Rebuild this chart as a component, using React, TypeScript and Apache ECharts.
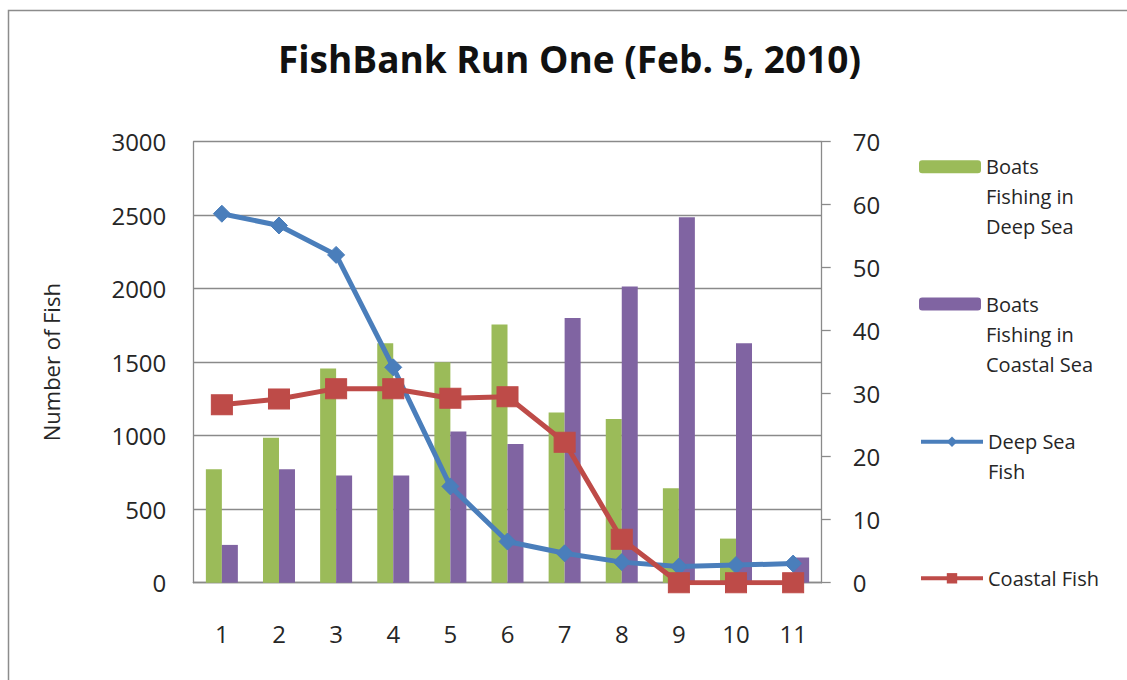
import React, { useEffect, useRef } from "react";
import * as echarts from "echarts";

// ---- data ----
const rounds = ["1", "2", "3", "4", "5", "6", "7", "8", "9", "10", "11"];
const boatsDeepSea = [18, 23, 34, 38, 35, 41, 27, 26, 15, 7, 0];
const boatsCoastalSea = [6, 18, 17, 17, 24, 22, 42, 47, 58, 38, 4];
const deepSeaFish = [2510, 2430, 2230, 1465, 655, 280, 200, 140, 110, 120, 130];
const coastalFish = [1210, 1250, 1320, 1320, 1255, 1265, 955, 295, 0, 0, 0];

const fishAxis = { min: 0, max: 3000, interval: 500 };
const boatAxis = { min: 0, max: 70, interval: 10 };

const seriesNames = [
  "Boats Fishing in Deep Sea",
  "Boats Fishing in Coastal Sea",
  "Deep Sea Fish",
  "Coastal Fish",
];
const legendLines = [
  ["Boats", "Fishing in", "Deep Sea"],
  ["Boats", "Fishing in", "Coastal Sea"],
  ["Deep Sea", "Fish"],
  ["Coastal Fish"],
];

const titleText = "FishBank Run One (Feb. 5, 2010)";
const leftAxisName = "Number of Fish";

const FONT = "'Open Sans', sans-serif";
const GREEN = "#9BBB59";
const PURPLE = "#8064A2";
const BLUE = "#4A7EBB";
const RED = "#BE4B48";
const GRID = "#8A8A8A";
const TEXT = "#262626";

export default function App() {
  const ref = useRef<HTMLDivElement>(null);

  useEffect(() => {
    if (!ref.current) return;
    const chart = echarts.init(ref.current, undefined, { renderer: "svg" });

    // symbol centre y for each legend entry, aligned with the first text line
    const legendSymbolY = [166.7, 304, 441.7, 578.3];
    const LH = 30;

    const legends = seriesNames.map((name, i) => {
      const lines = legendLines[i];
      const n = lines.length;
      // pad with empty lines above so the first real line sits at the symbol
      const label = new Array(n - 1).fill("").concat(lines).join("\n");
      const blockH = (2 * n - 1) * LH;
      return {
        orient: "vertical",
        left: 919,
        top: legendSymbolY[i] - blockH / 2,
        padding: 0,
        itemWidth: 62,
        itemHeight: 13,
        selectedMode: false,
        formatter: () => label,
        lineStyle: { width: 4 },
        textStyle: {
          fontFamily: FONT,
          fontSize: 20,
          color: TEXT,
          lineHeight: LH,
        },
        data: [name],
      };
    });

    chart.setOption({
      animation: false,
      backgroundColor: "#ffffff",
      title: {
        text: titleText,
        left: 569.5,
        textAlign: "center",
        top: 39.5,
        padding: 0,
        textStyle: {
          fontFamily: FONT,
          fontSize: 37,
          fontWeight: "bold",
          color: "#111",
        },
      },
      graphic: [
        {
          type: "rect",
          shape: { x: 8.5, y: 10.5, width: 1200, height: 720 },
          style: { fill: "none", stroke: "#8C8C8C", lineWidth: 1.5 },
          silent: true,
          z: -10,
        },
      ],
      legend: legends,
      grid: {
        left: 193.3,
        right: 1127 - 821.7,
        top: 141.7,
        bottom: 680 - 582.7,
        containLabel: false,
      },
      xAxis: {
        type: "category",
        data: rounds,
        boundaryGap: true,
        axisLine: { show: true, lineStyle: { color: GRID, width: 1.3 } },
        axisTick: { show: false },
        axisLabel: {
          margin: 39,
          fontFamily: FONT,
          fontSize: 24,
          color: TEXT,
        },
        splitLine: { show: false },
      },
      yAxis: [
        {
          type: "value",
          min: fishAxis.min,
          max: fishAxis.max,
          interval: fishAxis.interval,
          name: leftAxisName,
          nameLocation: "middle",
          nameRotate: 90,
          nameGap: 131,
          nameTextStyle: { fontFamily: FONT, fontSize: 22, color: TEXT },
          axisLine: { show: true, lineStyle: { color: GRID, width: 1.3 } },
          axisTick: { show: false },
          axisLabel: {
            margin: 27,
            fontFamily: FONT,
            fontSize: 24,
            color: TEXT,
            formatter: (v: number) => String(v),
          },
          splitLine: { show: true, lineStyle: { color: GRID, width: 1.3 } },
        },
        {
          type: "value",
          position: "right",
          min: boatAxis.min,
          max: boatAxis.max,
          interval: boatAxis.interval,
          axisLine: { show: true, lineStyle: { color: GRID, width: 1.3 } },
          axisTick: {
            show: true,
            inside: false,
            length: 9,
            lineStyle: { color: GRID, width: 1.3 },
          },
          axisLabel: {
            margin: 31,
            fontFamily: FONT,
            fontSize: 24,
            color: TEXT,
            formatter: (v: number) => String(v),
          },
          splitLine: { show: false },
        },
      ],
      series: [
        {
          name: seriesNames[0],
          type: "bar",
          yAxisIndex: 1,
          data: boatsDeepSea,
          barGap: "0%",
          barCategoryGap: "44%",
          itemStyle: { color: GREEN },
          z: 2,
        },
        {
          name: seriesNames[1],
          type: "bar",
          yAxisIndex: 1,
          data: boatsCoastalSea,
          barGap: "0%",
          barCategoryGap: "44%",
          itemStyle: { color: PURPLE },
          z: 2,
        },
        {
          name: seriesNames[2],
          type: "line",
          yAxisIndex: 0,
          data: deepSeaFish,
          symbol: "diamond",
          symbolSize: 17,
          lineStyle: { color: BLUE, width: 5 },
          itemStyle: { color: BLUE, borderColor: BLUE },
          z: 3,
        },
        {
          name: seriesNames[3],
          type: "line",
          yAxisIndex: 0,
          data: coastalFish,
          symbol: "rect",
          symbolSize: [21, 20],
          lineStyle: { color: RED, width: 5 },
          itemStyle: { color: RED, borderColor: RED },
          z: 4,
        },
      ],
    });

    return () => {
      chart.dispose();
    };
  }, []);

  return (
    <div
      ref={ref}
      style={{
        position: "absolute",
        left: 0,
        top: 0,
        width: 1127,
        height: 680,
        background: "#fff",
      }}
    />
  );
}
